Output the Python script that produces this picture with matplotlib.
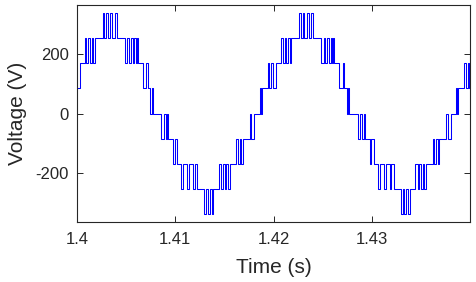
import matplotlib
matplotlib.use("Agg")
import matplotlib.pyplot as plt
import numpy as np

plt.rcParams['font.family'] = ['Liberation Sans', 'DejaVu Sans']
plt.rcParams['axes.unicode_minus'] = False

# ---- data ----
t_start = 1.4            # s
t_end = 1.44             # s
period_ms = 20.0         # one fundamental period (50 Hz)
n_periods = 2
step_volts = 85.0        # voltage of one level step
start_level = 1          # level at t = 1.4 s

# switching instants within one period (ms after the period start) and the level after each switch
switch_ms = [0.27, 0.81, 0.96, 1.15, 1.32, 1.49, 1.65, 1.83,
             2.61, 2.77, 2.97, 3.15, 3.40, 3.57, 3.86, 4.03,
             4.87, 5.11, 5.28, 5.45, 5.65, 5.84, 5.99, 6.09, 6.19,
             6.70, 7.06, 7.18,
             7.46, 7.62, 7.72,
             8.59, 8.82, 9.03, 9.19, 9.31,
             9.78, 9.95, 10.22,
             10.61, 10.79, 11.24, 11.40, 11.81, 11.98, 12.25,
             12.94, 13.15, 13.33, 13.53, 13.69, 13.89,
             14.42, 14.69, 14.85, 15.03, 15.20, 15.36, 15.53,
             16.21, 16.38, 16.55, 16.72, 16.88,
             17.56, 17.72, 18.02,
             18.58, 18.68, 18.78,
             19.42, 19.59, 19.75, 19.90]
switch_level = [2, 3, 2, 3, 2, 3, 2, 3,
                4, 3, 4, 3, 4, 3, 4, 3,
                2, 3, 2, 3, 2, 3, 2, 3, 2,
                1, 2, 1,
                0, 1, 0,
                -1, 0, -1, 0, -1,
                -2, -1, -2,
                -3, -2, -3, -2, -3, -2, -3,
                -4, -3, -4, -3, -4, -3,
                -2, -3, -2, -3, -2, -3, -2,
                -1, -2, -1, -2, -1,
                0, -1, 0,
                1, 0, 1,
                2, 1, 2, 1]

x_ticks = [1.4, 1.41, 1.42, 1.43]
x_ticklabels = ['1.4', '1.41', '1.42', '1.43']
y_ticks = [-200, 0, 200]

# ---- build the step waveform ----
t = [t_start]
v = [start_level * step_volts]
for p in range(n_periods):
    for ms, lv in zip(switch_ms, switch_level):
        tt = t_start + (p * period_ms + ms) / 1000.0
        if tt < t_end:
            t.append(tt)
            v.append(lv * step_volts)
t.append(t_end)
v.append(v[-1])

fig = plt.figure(figsize=(4.76, 2.82), dpi=100)
ax = fig.add_axes([77/476, 1-222/282, 393/476, 217/282])
ax.plot(t, v, drawstyle='steps-post', color='#0000ff', lw=0.75)

ax.set_xlim(t_start, t_end)
ax.set_ylim(-367, 367)
ax.set_xticks(x_ticks)
ax.set_xticklabels(x_ticklabels)
ax.set_yticks(y_ticks)

axc = '#262626'
for s in ax.spines.values():
    s.set_color(axc)
    s.set_linewidth(0.8)
ax.tick_params(direction='in', length=4, width=0.7, colors=axc,
               top=True, right=True, labelsize=12)
ax.tick_params(axis='x', pad=7)
ax.tick_params(axis='y', pad=6)

fig.text(274/476, 0.05, 'Time (s)', ha='center', va='center', fontsize=15, color=axc)
fig.text(18/476, 1-113.5/282, 'Voltage (V)', rotation=90, ha='center', va='center',
         fontsize=15, color=axc)

fig.savefig('out.png', dpi=100)
